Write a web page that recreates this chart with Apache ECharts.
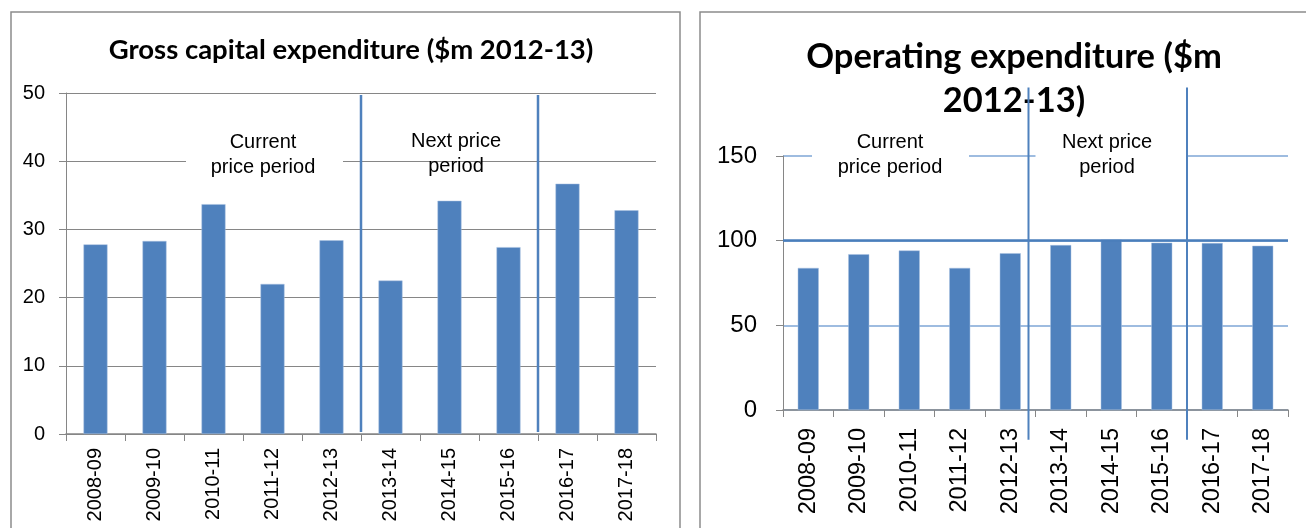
<!DOCTYPE html>
<html>
<head>
<meta charset="utf-8">
<script src="https://cdn.jsdelivr.net/npm/echarts@6/dist/echarts.min.js"></script>
<style>
  html, body { margin: 0; padding: 0; background: #fff; }
  #main { width: 1306px; height: 528px; }
</style>
</head>
<body>
<div id="main"></div>
<script>
// financial years shared by both panels
var years = ['2008-09', '2009-10', '2010-11', '2011-12', '2012-13',
             '2013-14', '2014-15', '2015-16', '2016-17', '2017-18'];
// gross capital expenditure, $m 2012-13
var capex = [27.8, 28.3, 33.7, 22.0, 28.4, 22.5, 34.2, 27.4, 36.7, 32.8];
// operating expenditure, $m 2012-13
var opex = [83.9, 92.0, 94.2, 83.9, 92.6, 97.4, 100.6, 98.8, 98.6, 97.0];
// first year of each new period (divider drawn before it)
var periodStarts = [5, 8];

var BLUE = '#4f81bd';
var GREY = '#868686';
var FONT = 'Liberation Sans';

var chart = echarts.init(document.getElementById('main'));

function yAx(grid, max, interval, size, margin, split) {
  return {
    type: 'value', gridIndex: grid, min: 0, max: max, interval: interval,
    axisLine: { show: true, lineStyle: { color: GREY, width: 1 } },
    axisTick: { show: true, length: 7, lineStyle: { color: GREY } },
    axisLabel: { fontFamily: FONT, fontSize: size, color: '#000', margin: margin },
    splitLine: { show: true, lineStyle: split }
  };
}
function xAx(grid, size, margin) {
  return {
    type: 'category', gridIndex: grid, data: years,
    axisLine: { lineStyle: { color: GREY, width: 1.5 } },
    axisTick: { show: true, length: 7, interval: 0, lineStyle: { color: GREY } },
    axisLabel: { rotate: 90, interval: 0, fontFamily: FONT, fontSize: size, color: '#000', margin: margin }
  };
}

var option = {
  animation: false,
  title: [
    { text: 'Gross capital expenditure ($m 2012-13)', left: 346, top: 31, textAlign: 'center',
      textStyle: { fontFamily: 'Lato', fontWeight: 'bold', fontSize: 27.5, color: '#000' } },
    { text: 'Operating expenditure ($m\n2012-13)', left: 1009, top: 30, textAlign: 'center',
      textStyle: { fontFamily: 'Lato', fontWeight: 'bold', fontSize: 34.5, color: '#000', lineHeight: 44 } }
  ],
  grid: [
    { left: 66, right: 650, top: 93, bottom: 94 },
    { left: 783, right: 18, top: 156, bottom: 118 }
  ],
  xAxis: [xAx(0, 20, 14), xAx(1, 23.5, 18)],
  yAxis: [
    yAx(0, 50, 10, 20, 21, { color: GREY, width: 1.2 }),
    yAx(1, 150, 50, 24, 26, { color: ['#7ea6d6'], width: 1.5 })
  ],
  series: [
    { type: 'bar', xAxisIndex: 0, yAxisIndex: 0, data: capex, barWidth: 24,
      itemStyle: { color: BLUE, borderColor: '#a9c1e0', borderWidth: 0.5 } },
    { type: 'bar', xAxisIndex: 1, yAxisIndex: 1, data: opex, barWidth: 21,
      itemStyle: { color: BLUE, borderColor: '#a9c1e0', borderWidth: 0.5 },
      markLine: { silent: true, symbol: 'none', label: { show: false },
        lineStyle: { color: '#4a7ebb', width: 2.5, type: 'solid' },
        data: [{ yAxis: 100 }] } }
  ]
};
chart.setOption(option);

// period dividers and annotations, placed from the axes' own scales
function boundaryX(axis, i) {
  var a = chart.convertToPixel({ xAxisIndex: axis }, years[i - 1]);
  var b = chart.convertToPixel({ xAxisIndex: axis }, years[i]);
  return (a + b) / 2;
}
var g = [];
// chart frames
g.push({ type: 'rect', shape: { x: 11, y: 12, width: 669, height: 540 },
  style: { fill: 'none', stroke: '#8c8c8c', lineWidth: 1.5 }, z: 0 });
g.push({ type: 'rect', shape: { x: 700, y: 12, width: 640, height: 540 },
  style: { fill: 'none', stroke: '#8c8c8c', lineWidth: 1.5 }, z: 0 });

// white label boxes covering grid lines
g.push({ type: 'rect', shape: { x: 186, y: 126, width: 157, height: 56 },
  style: { fill: '#fff' }, z: 50 });
g.push({ type: 'rect', shape: { x: 812, y: 126, width: 157, height: 56 },
  style: { fill: '#fff' }, z: 50 });
var nx0 = boundaryX(1, periodStarts[0]), nx1 = boundaryX(1, periodStarts[1]);
g.push({ type: 'rect', shape: { x: nx0, y: 126, width: nx1 - nx0, height: 56 },
  style: { fill: '#fff' }, z: 50 });

periodStarts.forEach(function (i) {
  var x0 = boundaryX(0, i);
  g.push({ type: 'line', z: 60,
    shape: { x1: x0, y1: chart.convertToPixel({ yAxisIndex: 0 }, 49.7), x2: x0, y2: chart.convertToPixel({ yAxisIndex: 0 }, 0.3) },
    style: { stroke: BLUE, lineWidth: 2.5 } });
  var x1 = boundaryX(1, i);
  if (i === periodStarts[0]) x1 -= 7;
  g.push({ type: 'line', z: 60,
    shape: { x1: x1, y1: chart.convertToPixel({ yAxisIndex: 1 }, 190.5), x2: x1, y2: chart.convertToPixel({ yAxisIndex: 1 }, -17.5) },
    style: { stroke: BLUE, lineWidth: 2 } });
});

function note(x, y, txt) {
  g.push({ type: 'text', x: x, y: y, z: 70,
    style: { text: txt, fontFamily: FONT, fontSize: 20, fill: '#000', align: 'center',
      verticalAlign: 'middle', lineHeight: 25 } });
}
note(263, 155, 'Current\nprice period');
note(456, 154, 'Next price\nperiod');
note(890, 155, 'Current\nprice period');
note(1107, 155, 'Next price\nperiod');

chart.setOption({ graphic: g });
</script>
</body>
</html>
